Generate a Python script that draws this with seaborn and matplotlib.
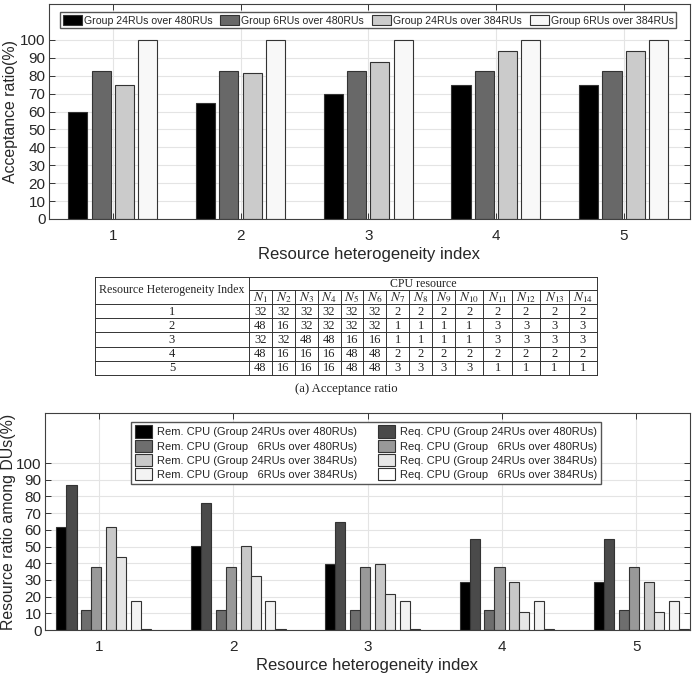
import matplotlib
matplotlib.use('Agg')
import matplotlib.pyplot as plt
from matplotlib.patches import Patch
import pandas as pd
import seaborn as sns

INDEX = ['1', '2', '3', '4', '5']

# (a) acceptance ratio (%)
ACC_SERIES = ['Group 24RUs over 480RUs', 'Group 6RUs over 480RUs',
              'Group 24RUs over 384RUs', 'Group 6RUs over 384RUs']
ACC_24_480 = [60, 65, 70, 75, 75]
ACC_6_480 = [82.5, 82.5, 82.5, 82.5, 82.5]
ACC_24_384 = [75, 81.25, 87.5, 93.75, 93.75]
ACC_6_384 = [100, 100, 100, 100, 100]
ACC_COLORS = ['#000000', '#686868', '#cbcbcb', '#f8f8f8']

# CPU resource per DU for each heterogeneity index
TABLE_HEAD = 'Resource Heterogeneity Index'
TABLE_GROUP = 'CPU resource'
CPU_ROWS = [
    [32, 32, 32, 32, 32, 32, 2, 2, 2, 2, 2, 2, 2, 2],
    [48, 16, 32, 32, 32, 32, 1, 1, 1, 1, 3, 3, 3, 3],
    [32, 32, 48, 48, 16, 16, 1, 1, 1, 1, 3, 3, 3, 3],
    [48, 16, 16, 16, 48, 48, 2, 2, 2, 2, 2, 2, 2, 2],
    [48, 16, 16, 16, 48, 48, 3, 3, 3, 3, 1, 1, 1, 1],
]
CAPTION = '(a) Acceptance ratio'

# resource ratio among DUs (%)
CONFIGS = ['Group 24RUs over 480RUs', 'Group   6RUs over 480RUs',
           'Group 24RUs over 384RUs', 'Group   6RUs over 384RUs']
REM_24_480 = [61.5, 50.5, 39.5, 28.5, 28.5]
REQ_24_480 = [87, 76, 65, 54.5, 54.5]
REM_6_480 = [12, 12, 12, 12, 12]
REQ_6_480 = [38, 38, 38, 38, 38]
REM_24_384 = [61.5, 50.5, 39.5, 28.5, 28.5]
REQ_24_384 = [43.5, 32.5, 21.5, 10.5, 10.5]
REM_6_384 = [17.5, 17.5, 17.5, 17.5, 17.5]
REQ_6_384 = [0.3, 0.3, 0.3, 0.3, 0.3]
REM_COLORS = ['#000000', '#6e6e6e', '#c8c8c8', '#f3f3f3']
REQ_COLORS = ['#4a4a4a', '#999999', '#e6e6e6', '#ffffff']

EDGE = '#333333'


def long_frame(series_names, columns):
    rows = []
    for name, vals in zip(series_names, columns):
        for idx, v in zip(INDEX, vals):
            rows.append({'idx': idx, 'series': name, 'value': v})
    return pd.DataFrame(rows)


def style_axes(ax, ymax):
    ax.set_ylim(0, ymax)
    ax.set_yticks(range(0, 101, 10))
    ax.grid(True, color='#e4e4e4', lw=0.8)
    ax.set_axisbelow(True)
    ax.tick_params(direction='in', top=True, right=True, length=4,
                   width=0.7, color='#333333', labelsize=11)
    ax.tick_params(axis='y', pad=2.5)
    ax.tick_params(axis='x', pad=7)
    for s in ax.spines.values():
        s.set_color('#404040')
        s.set_linewidth(0.8)
    ax.set_xlabel('Resource heterogeneity index', fontsize=12, labelpad=3)


sns.set_theme(style='ticks')
plt.rcParams['font.family'] = ['Liberation Sans', 'DejaVu Sans']
plt.rcParams['mathtext.fontset'] = 'stix'

fig = plt.figure(figsize=(6.96, 6.83), dpi=100)

# ---- top: acceptance ratio
ax_a = fig.add_axes([49 / 696, 1 - 219 / 683, 641 / 696, 215 / 683])
acc = long_frame(ACC_SERIES, [ACC_24_480, ACC_6_480, ACC_24_384, ACC_6_384])
sns.barplot(data=acc, x='idx', y='value', hue='series', order=INDEX,
            hue_order=ACC_SERIES, palette=ACC_COLORS, saturation=1,
            width=0.73, gap=0.18, edgecolor=EDGE, linewidth=0.8,
            errorbar=None, legend=False, ax=ax_a)
style_axes(ax_a, 120)
ax_a.set_xlim(-0.5, 4.52)
ax_a.set_ylabel('Acceptance ratio(%)', fontsize=11.4)
ax_a.yaxis.set_label_coords(-0.049, 0.5)
ax_a.legend([Patch(facecolor=c, edgecolor=EDGE, lw=0.8) for c in ACC_COLORS],
            ACC_SERIES, ncol=4, loc='upper center',
            bbox_to_anchor=(0.498, 0.963), fontsize=7.6, frameon=True,
            fancybox=False, edgecolor='#555555', framealpha=1,
            handlelength=1.8, handleheight=1.2, handletextpad=0.2,
            columnspacing=0.75, borderpad=0.25, borderaxespad=0)

# ---- middle: table
ax_t = fig.add_axes([95 / 696, 1 - 375 / 683, 502 / 696, 98 / 683])
ax_t.set_axis_off()
col_w = [154] + [22.9] * 9 + [28.4] * 5
col_x = [0]
for w in col_w:
    col_x.append(col_x[-1] + w)
row_y = [0, 13, 27] + [27 + 14.2 * (i + 1) for i in range(len(CPU_ROWS))]
W, H = col_x[-1], row_y[-1]
ax_t.set_xlim(0, W)
ax_t.set_ylim(H, 0)
lk = dict(color='#333333', lw=0.7, solid_capstyle='projecting', clip_on=False)
for y in [0] + row_y[2:]:
    ax_t.plot([0, W], [y, y], **lk)
ax_t.plot([col_x[1], W], [row_y[1], row_y[1]], **lk)
ax_t.plot([0, 0], [0, H], **lk)
ax_t.plot([col_x[1], col_x[1]], [0, H], **lk)
ax_t.plot([W, W], [0, H], **lk)
for x in col_x[2:-1]:
    ax_t.plot([x, x], [row_y[1], H], **lk)
serif = ['Liberation Serif', 'DejaVu Serif']
tk = dict(ha='center', va='center', family=serif, color='#222222')
ax_t.text(col_x[1] / 2, row_y[2] / 2, TABLE_HEAD, fontsize=8.6, **tk)
ax_t.text((col_x[1] + W) / 2, row_y[1] / 2 + 0.5, TABLE_GROUP,
          fontsize=8.6, **tk)
for j in range(len(CPU_ROWS[0])):
    cx = (col_x[j + 1] + col_x[j + 2]) / 2
    ax_t.text(cx, (row_y[1] + row_y[2]) / 2 + 0.5, f'$N_{{{j + 1}}}$',
              ha='center', va='center', fontsize=9.5, color='#222222')
for i, row in enumerate(CPU_ROWS):
    cy = (row_y[i + 2] + row_y[i + 3]) / 2 + 0.5
    ax_t.text(col_x[1] / 2, cy, INDEX[i], fontsize=9, **tk)
    for j, v in enumerate(row):
        cx = (col_x[j + 1] + col_x[j + 2]) / 2
        ax_t.text(cx, cy, str(v), fontsize=9, **tk)
fig.text(0.497, 1 - 389 / 683, CAPTION, ha='center', va='center',
         fontsize=9.2, family=serif, color='#222222')

# ---- bottom: resource ratio among DUs
ax_b = fig.add_axes([45 / 696, 1 - 630 / 683, 645 / 696, 217 / 683])
rem = long_frame(CONFIGS, [REM_24_480, REM_6_480, REM_24_384, REM_6_384])
req = long_frame(CONFIGS, [REQ_24_480, REQ_6_480, REQ_24_384, REQ_6_384])
bar_kw = dict(x='idx', y='value', hue='series', order=INDEX,
              hue_order=CONFIGS, saturation=1, width=0.74, gap=0.595,
              edgecolor=EDGE, linewidth=0.8, errorbar=None, legend=False,
              ax=ax_b)
sns.barplot(data=rem, palette=REM_COLORS, **bar_kw)
n_rem = len(ax_b.patches)
sns.barplot(data=req, palette=REQ_COLORS, **bar_kw)
# required-CPU bar sits right next to its remaining-CPU bar
for p in ax_b.patches[n_rem:]:
    p.set_x(p.get_x() + p.get_width())
style_axes(ax_b, 130)
ax_b.set_xlim(-0.4, 4.4)
ax_b.set_ylabel('Resource ratio among DUs(%)', fontsize=11.4)
ax_b.yaxis.set_label_coords(-0.045, 0.5)
handles = ([Patch(facecolor=c, edgecolor=EDGE, lw=0.8) for c in REM_COLORS]
           + [Patch(facecolor=c, edgecolor=EDGE, lw=0.8) for c in REQ_COLORS])
labels = ([f'Rem. CPU ({c})' for c in CONFIGS]
          + [f'Req. CPU ({c})' for c in CONFIGS])
ax_b.legend(handles, labels, ncol=2, loc='upper center',
            bbox_to_anchor=(0.498, 0.958), fontsize=8, frameon=True,
            fancybox=False, edgecolor='#555555', framealpha=1,
            handlelength=1.55, handleheight=1.35, handletextpad=0.45,
            columnspacing=1.9, labelspacing=0.15, borderpad=0.3,
            borderaxespad=0)

fig.savefig('out.png', dpi=100)
